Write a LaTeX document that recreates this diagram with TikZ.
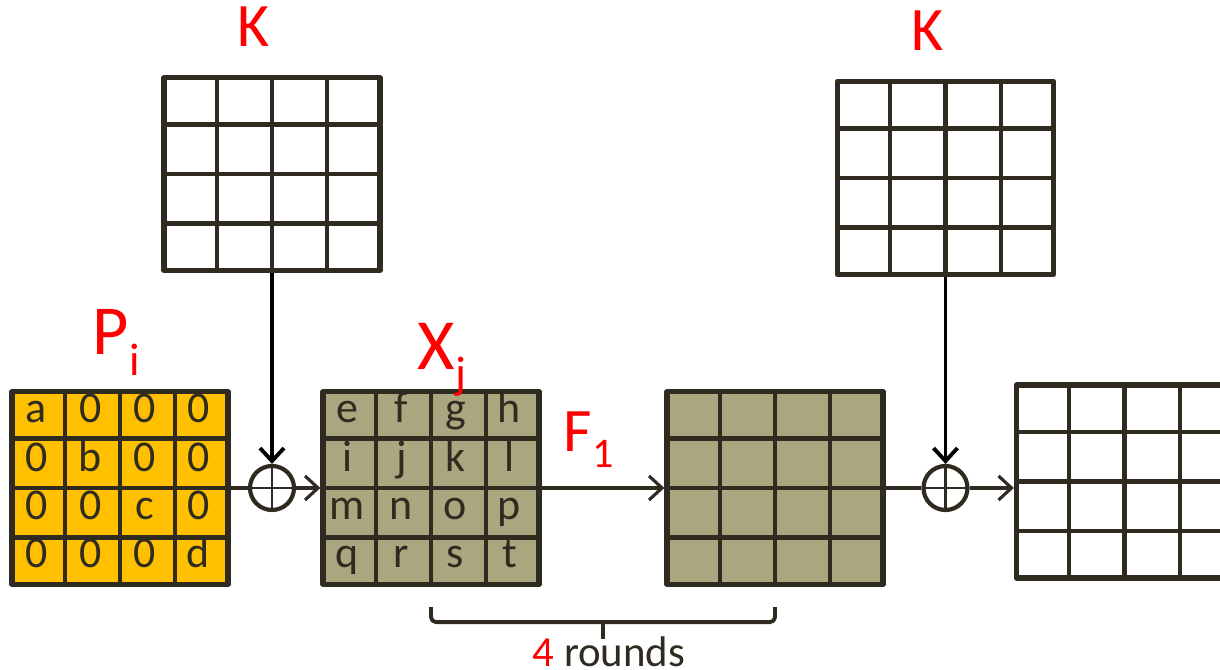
\documentclass[tikz,border=0pt]{standalone}
\usepackage{fontspec}
\setmainfont{Carlito}
\usetikzlibrary{arrows.meta,calc,positioning}
\definecolor{gridline}{RGB}{47,43,32}
\definecolor{stategold}{RGB}{255,192,0}
\definecolor{statekhaki}{RGB}{170,166,128}
\tikzset{
  block/.style={draw=gridline,line width=1.5pt,minimum width=2.16cm,minimum height=1.93cm,inner sep=0pt},
  xor/.style={circle,draw=gridline,line width=1.2pt,fill=white,minimum size=0.44cm,inner sep=0pt,
    path picture={\draw[gridline,line width=0.8pt] (path picture bounding box.north) -- (path picture bounding box.south)
      (path picture bounding box.west) -- (path picture bounding box.east);}},
  flow/.style={gridline,line width=0.9pt},
  keyline/.style={black,line width=1.1pt},
  feed/.style={-{Straight Barb[length=1.3mm,width=2.4mm]}},
  lbl/.style={text=red,inner sep=0pt,anchor=base west},
  cellfont/.style={text=gridline,inner sep=0pt,font=\fontsize{12.5}{14}\selectfont},
}
% inner lines of a 4x4 block
\newcommand\cells[1]{%
  \foreach \k in {1,2,3}{
    \draw[gridline,line width=1.2pt] ($(#1.north west)!\k/4!(#1.north east)$) -- ($(#1.south west)!\k/4!(#1.south east)$);
    \draw[gridline,line width=1.2pt] ($(#1.north west)!\k/4!(#1.south west)$) -- ($(#1.north east)!\k/4!(#1.south east)$);
  }}
% one entry per cell, row by row
\newcommand\entries[2]{%
  \foreach \t [count=\idx from 0] in {#2}{
    \pgfmathtruncatemacro\col{mod(\idx,4)}
    \pgfmathtruncatemacro\row{int(\idx/4)}
    \node[cellfont] at ($(#1.north west)+({(\col+0.5)*0.54},{-(\row+0.5)*0.4825})$) {\strut\t};
  }}

\begin{document}
\begin{tikzpicture}[line join=round]
\useasboundingbox (0,0) rectangle (12.2,6.7);
\clip (0,0) rectangle (12.2,6.7);
% key blocks
\node[block] (keyA) at (2.72,4.96) {}; \cells{keyA}
\node[block] (keyB) at (9.455,4.92) {}; \cells{keyB}
% state blocks
\node[block,fill=stategold] (plain) at (1.20,1.82) {}; \cells{plain}
\entries{plain}{a,0,0,0,0,b,0,0,0,0,c,0,0,0,0,d}
\node[block,fill=statekhaki] (xj) at (4.31,1.82) {}; \cells{xj}
\entries{xj}{e,f,g,h,i,j,k,l,m,n,o,p,q,r,s,t}
\node[block,fill=statekhaki] (fone) at (7.75,1.82) {}; \cells{fone}
\node[block] (cipher) at (11.245,1.885) {}; \cells{cipher}
% round key addition
\node[xor] (addA) at (2.72,1.82) {};
\node[xor] (addB) at (9.455,1.82) {};
\draw[flow] (plain.east) -- (addA.west);
\draw[flow,feed] (addA.east) -- (xj.west);
\draw[keyline,feed] (keyA.south) -- (addA.north);
\draw[flow,feed] (xj.east) -- (fone.west);
\draw[flow] (fone.east) -- (addB.west);
\draw[flow,feed] (addB.east) -- (addB.east -| cipher.west);
\draw[keyline,feed] (keyB.south) -- (addB.north);
% labels
\node[lbl,anchor=base,font=\fontsize{17.6}{20}\selectfont] (kA) at ($(keyA.north)+(-0.18,0.28)$) {K};
\node[lbl,anchor=base,font=\fontsize{17.6}{20}\selectfont] (kB) at ($(keyB.north)+(-0.18,0.28)$) {K};
\node[lbl,font=\fontsize{20}{22}\selectfont] (pi) at (0.92,3.15) {P\raisebox{-5.7pt}{\fontsize{13}{13}\selectfont i}};
\node[lbl,font=\fontsize{20.5}{22}\selectfont] (xlab) at (4.17,3.00) {X\raisebox{-5.2pt}{\fontsize{13}{13}\selectfont j}};
\node[lbl,font=\fontsize{17.6}{20}\selectfont] (f1) at (5.63,2.18) {F\raisebox{-4.5pt}{\fontsize{12}{12}\selectfont 1}};
% the rounds bracket
\coordinate (bl) at ($(xj.south)+(0,-0.20)$);
\coordinate (br) at ($(fone.south)+(0,-0.20)$);
\draw[gridline,line width=1.1pt,rounded corners=0.05cm] (bl) -- ++(0,-0.15) -| (br);
\draw[gridline,line width=1.1pt] ($(bl)!0.5!(br)+(0,-0.15)$) coordinate (tipA) -- ++(0,-0.17);
\node[anchor=base,text=gridline,inner sep=0pt,font=\fontsize{12.2}{14}\selectfont] (rounds) at (6.09,0.03) {\textcolor{red}{4} rounds};
\end{tikzpicture}
\end{document}
